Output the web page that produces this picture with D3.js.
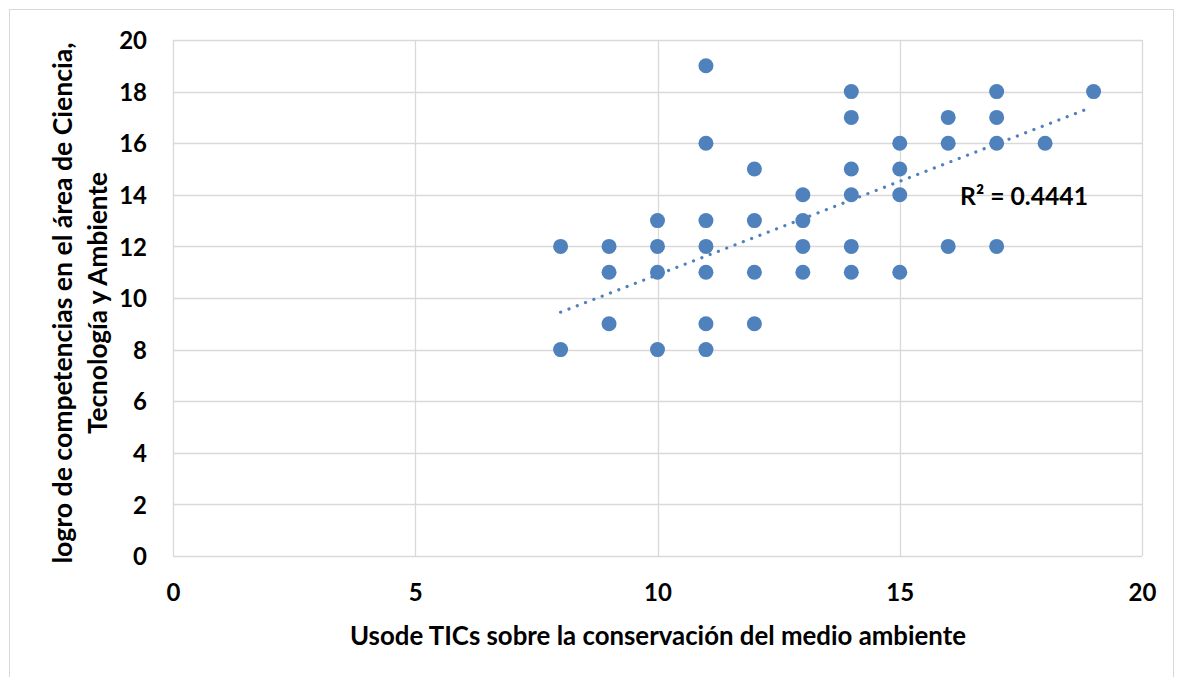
<!DOCTYPE html>
<html>
<head>
<meta charset="utf-8">
<script src="https://cdn.jsdelivr.net/npm/d3@7"></script>
<style>
  body { margin: 0; background: #fff; }
  text { font-family: Lato, "Open Sans", sans-serif; font-weight: bold; fill: #000; }
</style>
</head>
<body>
<div id="chart"></div>
<script>
// Uso de TICs (x) vs logro de competencias (y)
var usoTIC = [8, 8,
  9, 9, 9,
  10, 10, 10, 10,
  11, 11, 11, 11, 11, 11, 11,
  12, 12, 12, 12,
  13, 13, 13, 13,
  14, 14, 14, 14, 14, 14,
  15, 15, 15, 15,
  16, 16, 16,
  17, 17, 17, 17,
  18, 19];
var logro = [12, 8,
  12, 11, 9,
  13, 12, 11, 8,
  19, 16, 13, 12, 11, 9, 8,
  15, 13, 11, 9,
  14, 13, 12, 11,
  18, 17, 15, 14, 12, 11,
  16, 15, 14, 11,
  17, 16, 12,
  18, 17, 16, 12,
  16, 18];

// linear trend line end points
var trendX = [8, 19];
var trendY = [9.45, 17.33];
var r2Label = "R² = 0.4441";

var xTicks = [0, 5, 10, 15, 20];
var yTicks = [0, 2, 4, 6, 8, 10, 12, 14, 16, 18, 20];

var W = 1182, H = 677;
var margin = { top: 40, left: 173, right: 40, bottom: 121 };

var svg = d3.select("#chart").append("svg")
  .attr("width", W).attr("height", H);

// chart frame
svg.append("rect")
  .attr("x", 9.5).attr("y", 9.5)
  .attr("width", 1164).attr("height", 700)
  .attr("fill", "none").attr("stroke", "#d9d9d9");

var xScale = d3.scaleLinear().domain([0, 20]).range([margin.left, W - margin.right]);
var yScale = d3.scaleLinear().domain([0, 20]).range([H - margin.bottom, margin.top]);

// grid
svg.append("g").selectAll("line.h")
  .data(yTicks).enter().append("line")
  .attr("x1", xScale(0)).attr("x2", xScale(20))
  .attr("y1", function(d) { return Math.round(yScale(d)) + 0.5; })
  .attr("y2", function(d) { return Math.round(yScale(d)) + 0.5; })
  .attr("stroke", "#d9d9d9").attr("stroke-width", 1.3);

svg.append("g").selectAll("line.v")
  .data(xTicks).enter().append("line")
  .attr("y1", yScale(0)).attr("y2", yScale(20))
  .attr("x1", function(d) { return Math.round(xScale(d)) + 0.5; })
  .attr("x2", function(d) { return Math.round(xScale(d)) + 0.5; })
  .attr("stroke", "#d9d9d9").attr("stroke-width", 1.3);

// axes labels
var xAxis = d3.axisBottom(xScale).tickValues(xTicks).tickSize(0).tickPadding(0);
var gx = svg.append("g").attr("transform", "translate(0," + (yScale(0) + 45) + ")").call(xAxis);
gx.select(".domain").remove();
gx.selectAll("text").attr("font-size", 24).attr("dy", 0);

var yAxis = d3.axisLeft(yScale).tickValues(yTicks).tickSize(0).tickPadding(0);
var gy = svg.append("g").attr("transform", "translate(" + (margin.left - 26) + ",0)").call(yAxis);
gy.select(".domain").remove();
gy.selectAll("text").attr("font-size", 24).attr("dy", "0.36em");

// titles
svg.append("text")
  .attr("x", 658).attr("y", 645)
  .attr("text-anchor", "middle").attr("font-size", 26)
  .attr("textLength", 616).attr("lengthAdjust", "spacingAndGlyphs")
  .text("Usode TICs sobre la conservación del medio ambiente");

var yt = svg.append("g")
  .attr("transform", "translate(72,303) rotate(-90)");
yt.append("text").attr("x", 0).attr("y", 0)
  .attr("text-anchor", "middle").attr("font-size", 26)
  .attr("textLength", 521).attr("lengthAdjust", "spacingAndGlyphs")
  .text("logro de competencias en el área de Ciencia,");
yt.append("text").attr("x", 0).attr("y", 35)
  .attr("text-anchor", "middle").attr("font-size", 26)
  .attr("textLength", 262).attr("lengthAdjust", "spacingAndGlyphs")
  .text("Tecnología y Ambiente");

// points
svg.append("g").selectAll("circle")
  .data(usoTIC).enter().append("circle")
  .attr("cx", function(d) { return xScale(d); })
  .attr("cy", function(d, i) { return yScale(logro[i]); })
  .attr("r", 7.5)
  .attr("fill", "#4f81bd");

// trend line
svg.append("line")
  .attr("x1", xScale(trendX[0])).attr("y1", yScale(trendY[0]))
  .attr("x2", xScale(trendX[1]) - 6).attr("y2", yScale(trendY[1]))
  .attr("stroke", "#4f81bd").attr("stroke-width", 3.2)
  .attr("stroke-linecap", "round")
  .attr("stroke-dasharray", "0.1 8.8");

svg.append("text")
  .attr("x", 960).attr("y", 205)
  .attr("font-size", 24)
  .attr("textLength", 128).attr("lengthAdjust", "spacingAndGlyphs")
  .text(r2Label);
</script>
</body>
</html>
